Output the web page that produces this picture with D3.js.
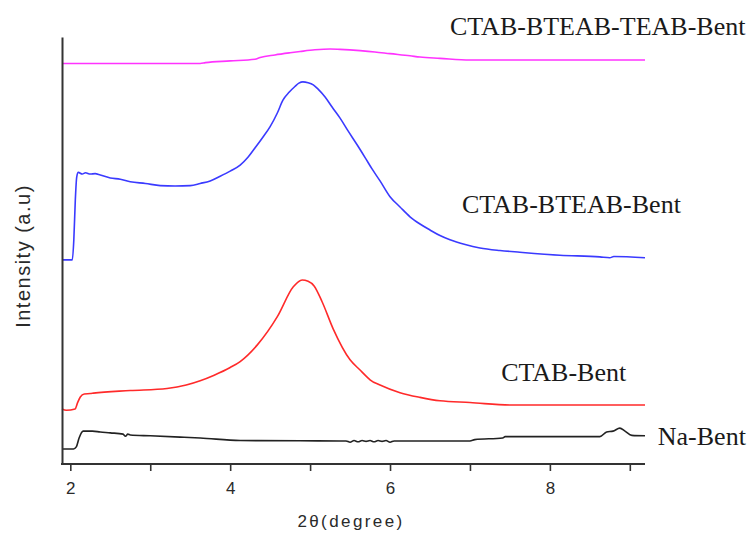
<!DOCTYPE html>
<html>
<head>
<meta charset="utf-8">
<script src="https://cdn.jsdelivr.net/npm/d3@7"></script>
<style>
  html, body { margin: 0; padding: 0; background: #fff; }
  svg { display: block; }
</style>
</head>
<body>
<svg id="chart" width="752" height="533"></svg>
<script>
// ---- data (2θ in degrees, intensity in arbitrary units) ----
const naBentX   = [1.896, 2.04, 2.075, 2.11, 2.16, 2.275, 2.375, 2.5, 2.66, 2.69, 2.72, 2.75, 3.0, 3.375, 3.625, 4.125, 4.875, 5.375, 5.45, 5.5, 5.55, 5.6, 5.65, 5.7, 5.75, 5.8, 5.85, 5.9, 5.95, 6.0, 6.05, 7.0, 7.06, 7.41, 7.44, 8.625, 8.71, 8.79, 8.875, 8.94, 9.025, 9.19];
const naBentY   = [3.5, 3.5, 4.0, 6.1, 7.7, 7.7, 7.5, 7.3, 7.0, 6.5, 7.0, 6.8, 6.6, 6.3, 6.1, 5.5, 5.45, 5.4, 5.4, 5.1, 5.5, 5.2, 5.5, 5.3, 5.5, 5.2, 5.5, 5.3, 5.5, 5.1, 5.4, 5.4, 5.7, 6.1, 6.4, 6.4, 7.5, 7.7, 8.4, 7.7, 6.7, 6.6];

const ctabX     = [1.896, 1.95, 2.06, 2.09, 2.125, 2.175, 2.25, 2.29, 2.75, 3.21, 3.45, 3.625, 3.8, 4.0, 4.125, 4.34, 4.59, 4.79, 4.9, 4.975, 5.05, 5.15, 5.29, 5.5, 5.625, 5.71, 5.75, 5.875, 6.125, 6.375, 6.625, 7.0, 7.525, 9.19];
const ctabY     = [12.9, 12.6, 12.9, 14.3, 15.7, 16.4, 16.5, 16.6, 17.2, 17.7, 18.5, 19.5, 20.8, 22.6, 24.0, 27.9, 34.5, 41.5, 43.1, 42.8, 41.7, 38.0, 31.6, 24.4, 22.0, 20.4, 19.7, 18.5, 16.7, 15.6, 14.8, 14.4, 13.8, 13.8];

const btX       = [1.896, 2.025, 2.044, 2.0625, 2.08, 2.1, 2.15, 2.19, 2.25, 2.31, 2.375, 2.5, 2.625, 2.75, 2.94, 3.125, 3.31, 3.5, 3.625, 3.75, 3.875, 4.0, 4.125, 4.225, 4.31, 4.4, 4.5, 4.59, 4.66, 4.74, 4.81, 4.86, 4.91, 4.975, 5.04, 5.1, 5.19, 5.275, 5.375, 5.475, 5.59, 5.69, 5.775, 5.875, 6.0, 6.125, 6.25, 6.375, 6.5, 6.625, 6.75, 6.94, 7.125, 7.375, 7.625, 8.125, 8.625, 8.75, 8.8, 9.19];
const btY       = [47.8, 47.8, 52.5, 61.8, 67.2, 68.3, 67.9, 68.2, 67.9, 68.0, 67.7, 67.0, 66.7, 66.1, 65.7, 65.2, 65.1, 65.2, 65.7, 66.3, 67.4, 68.6, 70.0, 71.9, 74.0, 76.3, 79.0, 82.2, 85.2, 87.1, 88.4, 89.2, 89.5, 89.3, 88.8, 87.8, 85.9, 83.6, 81.0, 78.0, 74.7, 71.7, 69.1, 66.3, 62.6, 60.2, 57.9, 56.2, 54.8, 53.5, 52.5, 51.4, 50.6, 50.0, 49.6, 48.9, 48.5, 48.3, 48.6, 48.3];

const bttX      = [1.896, 3.625, 3.69, 4.0, 4.31, 4.375, 4.56, 4.75, 4.875, 5.06, 5.25, 5.375, 5.625, 5.81, 6.0, 6.25, 6.375, 6.625, 7.0, 9.19];
const bttY      = [93.8, 93.8, 94.0, 94.4, 94.8, 95.2, 95.8, 96.3, 96.6, 97.0, 97.2, 97.1, 96.8, 96.5, 96.1, 95.6, 95.3, 95.0, 94.6, 94.6];

const seriesNames  = ["Na-Bent", "CTAB-Bent", "CTAB-BTEAB-Bent", "CTAB-BTEAB-TEAB-Bent"];
const seriesColors = ["#222222", "#ff2a2a", "#3a3aff", "#ff33ff"];
const xTicks       = [2, 3, 4, 5, 6, 7, 8, 9];
const xTickLabels  = ["2", "", "4", "", "6", "", "8", ""];
const xTitle       = "2θ(degree)";
const yTitle       = "Intensity (a.u)";

// label anchor positions (data units)
const labelAtX = [9.35, 7.39, 6.9, 6.75];
const labelAtY = [4.45, 19.4, 58.8, 100.5];

// ---- drawing ----
const svg = d3.select("#chart");
const x = d3.scaleLinear().domain([1.896, 9.19]).range([62, 645]);
const y = d3.scaleLinear().domain([0, 100]).range([464, 37]);

const series = [
  {xs: naBentX, ys: naBentY},
  {xs: ctabX,   ys: ctabY},
  {xs: btX,     ys: btY},
  {xs: bttX,    ys: bttY}
];

const line = d3.line().x(d => x(d[0])).y(d => y(d[1])).curve(d3.curveMonotoneX);

series.forEach((s, i) => {
  const pts = s.xs.map((v, j) => [v, s.ys[j]]);
  svg.append("path")
    .attr("d", line(pts))
    .attr("fill", "none")
    .attr("stroke", seriesColors[i])
    .attr("stroke-width", 1.6)
    .attr("stroke-linejoin", "round");
});

// axes
const xAxis = d3.axisBottom(x)
  .tickValues(xTicks)
  .tickFormat((d, i) => xTickLabels[i])
  .tickSize(7)
  .tickSizeOuter(0)
  .tickPadding(11);

const gx = svg.append("g").attr("transform", `translate(0,${y(0)})`).call(xAxis);
gx.select(".domain").attr("stroke", "#333").attr("stroke-width", 2);
gx.selectAll(".tick line").attr("stroke", "#333").attr("stroke-width", 1.6);
gx.selectAll(".tick text")
  .attr("fill", "#2a2a2a")
  .style("font-family", "'Liberation Sans', Arial, sans-serif")
  .style("font-size", "17px");

const yAxis = d3.axisLeft(y).tickValues([]).tickSizeOuter(0);
const gy = svg.append("g").attr("transform", `translate(${x(1.896)},0)`).call(yAxis);
gy.select(".domain").attr("stroke", "#333").attr("stroke-width", 2);

// extend x-axis domain to meet y axis corner
gx.select(".domain").attr("d", `M${x(1.896) - 1},0H${x(9.19)}`);

// axis titles
svg.append("text")
  .attr("x", 351).attr("y", 527)
  .attr("text-anchor", "middle")
  .attr("fill", "#2a2a2a")
  .style("font-family", "'Liberation Sans', Arial, sans-serif")
  .style("font-size", "17px")
  .style("letter-spacing", "2.4px")
  .text(xTitle);

svg.append("text")
  .attr("transform", "translate(30,256) rotate(-90)")
  .attr("text-anchor", "middle")
  .attr("fill", "#2a2a2a")
  .style("font-family", "'Liberation Sans', Arial, sans-serif")
  .style("font-size", "20px")
  .style("letter-spacing", "1.5px")
  .text(yTitle);

// series labels
seriesNames.forEach((name, i) => {
  svg.append("text")
    .attr("x", x(labelAtX[i]))
    .attr("y", y(labelAtY[i]))
    .attr("fill", "#1a1a1a")
    .style("font-family", "'Liberation Serif', 'Times New Roman', serif")
    .style("font-size", "26px")
    .text(name);
});
</script>
</body>
</html>
